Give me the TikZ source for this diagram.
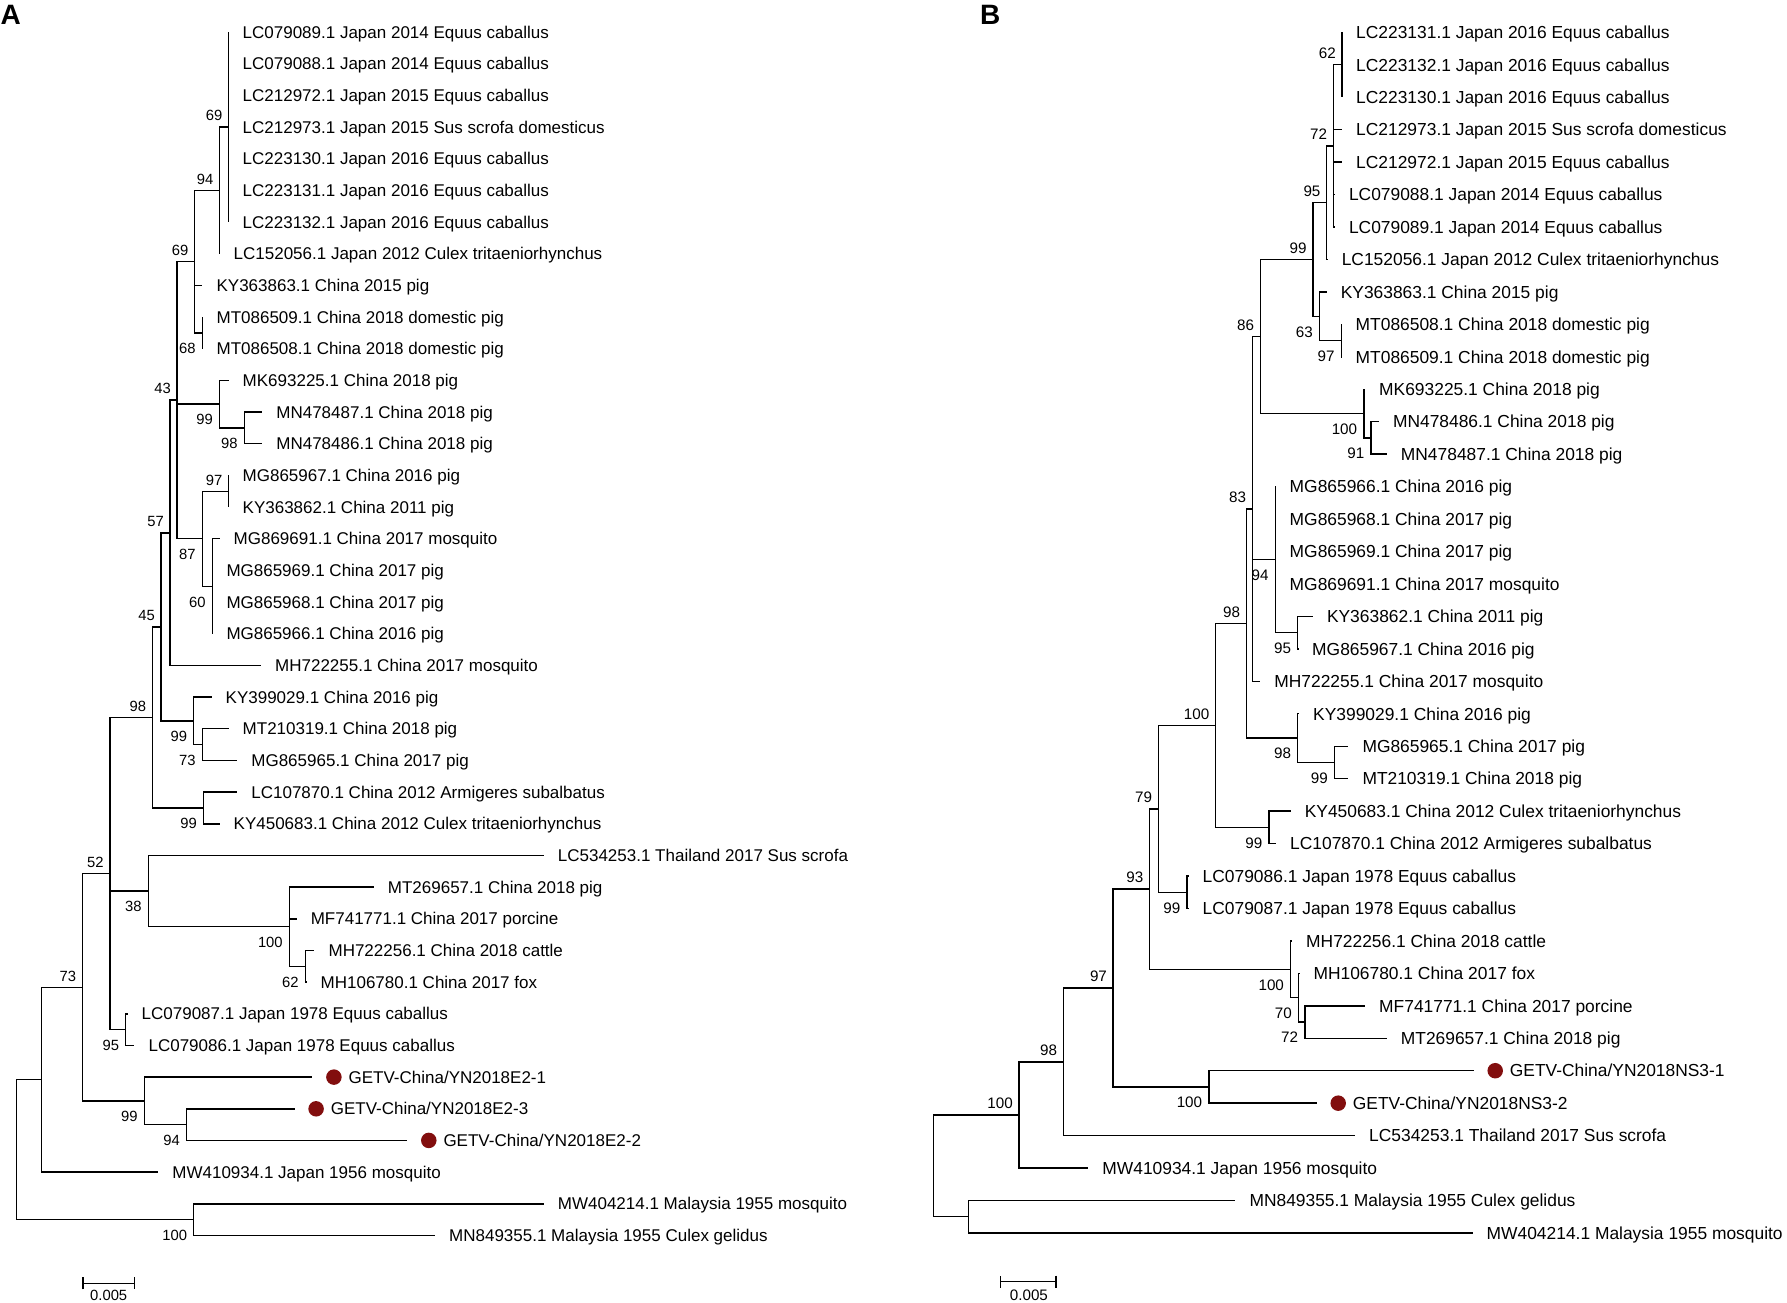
\documentclass[tikz,border=0pt]{standalone}
\usepackage{fontspec}
\setmainfont{Liberation Sans}
\usetikzlibrary{positioning,arrows.meta}
\definecolor{getvred}{RGB}{130,14,14}
\newcommand\tipsizeA{\fontsize{17}{20}\selectfont}
\newcommand\tipsizeB{\fontsize{17.4}{20}\selectfont}
\newcommand\bootsizeA{\fontsize{14.8}{17}\selectfont}
\newcommand\bootsizeB{\fontsize{15.2}{17}\selectfont}

\begin{document}
\begin{tikzpicture}[x=1pt,y=-1pt,line width=1.4pt,
  every edge/.style={draw,to path={|- (\tikztotarget)}},
  tip/.style={anchor=west,inner xsep=13.5pt,inner ysep=0pt,text depth=0pt},
  gtip/.style={tip,inner xsep=35.5pt},
  gdot/.style={circle,fill=getvred,inner sep=0pt,minimum size=15.5pt},
  boot/.style={inner sep=0pt,text height=10.6pt,text depth=0pt},
  bu/.style={boot,above left=5.5pt and 5.5pt of #1},
  bd/.style={boot,below left=9.5pt and 6pt of #1},
  panel/.style={font=\bfseries\fontsize{28}{30}\selectfont,inner sep=0pt,anchor=base west},
  scalebar/.style={arrows={Bar[width=12pt]-Bar[width=12pt]}}]
\path[use as bounding box,fill=white] (0,0) rectangle (1787,1302);

\node[panel] (pA) at (0,24) {A};
\node[panel] (pB) at (979.5,24) {B};

\begin{scope}[tip/.append style={font=\tipsizeA,text height=12.2pt},boot/.append style={font=\bootsizeA}]
\coordinate (aroot) at (16.6,1149.6);
\coordinate (aX) at (41.5,1079.65);
\coordinate (a73) at (82.2,987.2);
\coordinate (a52) at (109.9,873.5);
\coordinate (a98) at (152.2,717.4);
\coordinate (a45) at (161,626.8);
\coordinate (a57) at (170,532.8);
\coordinate (a43) at (177.1,400.15);
\coordinate (a69l) at (194.5,261.6);
\coordinate (a94) at (219.5,190.35);
\coordinate (a69u) at (228.5,127.0);
\coordinate (aMT) at (202.4,332.85);
\coordinate (a99a) at (219.5,404.1);
\coordinate (a98b) at (244.4,427.85);
\coordinate (a87) at (202.4,538.7);
\coordinate (a97) at (228.5,491.25);
\coordinate (a60) at (212.3,586.2);
\coordinate (a99b) at (193.7,720.8);
\coordinate (a73b) at (202.4,744.55);
\coordinate (a99c) at (203.6,807.95);
\coordinate (a38) at (148.3,891.05);
\coordinate (a100) at (289.4,926.7);
\coordinate (a62) at (305.3,966.25);
\coordinate (a95) at (125.7,1029.6);
\coordinate (a99d) at (144.3,1100.85);
\coordinate (a94b) at (186.6,1124.6);
\coordinate (a100m) at (193.7,1219.6);

\node[tip] (tA1) at (228.5,32.0) {LC079089.1 Japan 2014 Equus caballus};
\node[tip] (tA2) at (228.5,63.7) {LC079088.1 Japan 2014 Equus caballus};
\node[tip] (tA3) at (228.5,95.3) {LC212972.1 Japan 2015 Equus caballus};
\node[tip] (tA4) at (228.5,127.0) {LC212973.1 Japan 2015 Sus scrofa domesticus};
\node[tip] (tA5) at (228.5,158.7) {LC223130.1 Japan 2016 Equus caballus};
\node[tip] (tA6) at (228.5,190.4) {LC223131.1 Japan 2016 Equus caballus};
\node[tip] (tA7) at (228.5,222.0) {LC223132.1 Japan 2016 Equus caballus};
\node[tip] (tA8) at (219.5,253.7) {LC152056.1 Japan 2012 Culex tritaeniorhynchus};
\node[tip] (tA9) at (202.4,285.4) {KY363863.1 China 2015 pig};
\node[tip] (tA10) at (202.4,317.0) {MT086509.1 China 2018 domestic pig};
\node[tip] (tA11) at (202.4,348.7) {MT086508.1 China 2018 domestic pig};
\node[tip] (tA12) at (228.5,380.4) {MK693225.1 China 2018 pig};
\node[tip] (tA13) at (262.2,412.0) {MN478487.1 China 2018 pig};
\node[tip] (tA14) at (262.2,443.7) {MN478486.1 China 2018 pig};
\node[tip] (tA15) at (228.5,475.4) {MG865967.1 China 2016 pig};
\node[tip] (tA16) at (228.5,507.1) {KY363862.1 China 2011 pig};
\node[tip] (tA17) at (219.5,538.7) {MG869691.1 China 2017 mosquito};
\node[tip] (tA18) at (212.3,570.4) {MG865969.1 China 2017 pig};
\node[tip] (tA19) at (212.3,602.1) {MG865968.1 China 2017 pig};
\node[tip] (tA20) at (212.3,633.7) {MG865966.1 China 2016 pig};
\node[tip] (tA21) at (261.0,665.4) {MH722255.1 China 2017 mosquito};
\node[tip] (tA22) at (211.5,697.1) {KY399029.1 China 2016 pig};
\node[tip] (tA23) at (228.5,728.7) {MT210319.1 China 2018 pig};
\node[tip] (tA24) at (237.2,760.4) {MG865965.1 China 2017 pig};
\node[tip] (tA25) at (237.2,792.1) {LC107870.1 China 2012 Armigeres subalbatus};
\node[tip] (tA26) at (219.5,823.8) {KY450683.1 China 2012 Culex tritaeniorhynchus};
\node[tip] (tA27) at (543.7,855.4) {LC534253.1 Thailand 2017 Sus scrofa};
\node[tip] (tA28) at (373.7,887.1) {MT269657.1 China 2018 pig};
\node[tip] (tA29) at (296.6,918.8) {MF741771.1 China 2017 porcine};
\node[tip] (tA30) at (314.4,950.4) {MH722256.1 China 2018 cattle};
\node[tip] (tA31) at (306.5,982.1) {MH106780.1 China 2017 fox};
\node[tip] (tA32) at (127.5,1013.8) {LC079087.1 Japan 1978 Equus caballus};
\node[tip] (tA33) at (134.4,1045.4) {LC079086.1 Japan 1978 Equus caballus};
\node[gtip] (tA34) at (312.4,1077.1) {GETV-China/YN2018E2-1};
\node[gtip] (tA35) at (294.6,1108.8) {GETV-China/YN2018E2-3};
\node[gtip] (tA36) at (407.3,1140.4) {GETV-China/YN2018E2-2};
\node[tip] (tA37) at (158.2,1172.1) {MW410934.1 Japan 1956 mosquito};
\node[tip] (tA38) at (543.7,1203.8) {MW404214.1 Malaysia 1955 mosquito};
\node[tip] (tA39) at (435.0,1235.4) {MN849355.1 Malaysia 1955 Culex gelidus};
\node[gdot] (dA34) at ([xshift=21.5pt]tA34.west) {};
\node[gdot] (dA35) at ([xshift=21.5pt]tA35.west) {};
\node[gdot] (dA36) at ([xshift=21.5pt]tA36.west) {};

\path (aroot) edge (aX) edge (a100m);
\path (aX) edge (a73) edge (tA37.west);
\path (a73) edge (a52) edge (a99d);
\path (a52) edge (a98) edge (a38) edge (a95);
\path (a98) edge (a45) edge (a99c);
\path (a45) edge (a57) edge (a99b);
\path (a57) edge (a43) edge (tA21.west);
\path (a43) edge (a69l) edge (a99a) edge (a87);
\path (a69l) edge (a94) edge (tA9.west) edge (aMT);
\path (a94) edge (a69u) edge (tA8.west);
\path (a69u) edge (tA1.west) edge (tA2.west) edge (tA3.west) edge (tA4.west)
  edge (tA5.west) edge (tA6.west) edge (tA7.west);
\path (aMT) edge (tA10.west) edge (tA11.west);
\path (a99a) edge (tA12.west) edge (a98b);
\path (a98b) edge (tA13.west) edge (tA14.west);
\path (a87) edge (a97) edge (a60);
\path (a97) edge (tA15.west) edge (tA16.west);
\path (a60) edge (tA17.west) edge (tA18.west) edge (tA19.west) edge (tA20.west);
\path (a99b) edge (tA22.west) edge (a73b);
\path (a73b) edge (tA23.west) edge (tA24.west);
\path (a99c) edge (tA25.west) edge (tA26.west);
\path (a38) edge (tA27.west) edge (a100);
\path (a100) edge (tA28.west) edge (tA29.west) edge (a62);
\path (a62) edge (tA30.west) edge (tA31.west);
\path (a95) edge (tA32.west) edge (tA33.west);
\path (a99d) edge (tA34.west) edge (a94b);
\path (a94b) edge (tA35.west) edge (tA36.west);
\path (a100m) edge (tA38.west) edge (tA39.west);

\node[bu=a69u] (lA1) {69};
\node[bu=a94] (lA2) {94};
\node[bu=a69l] (lA3) {69};
\node[bd=aMT] (lA4) {68};
\node[bu=a43] (lA5) {43};
\node[bd=a99a] (lA6) {99};
\node[bd=a98b] (lA7) {98};
\node[bu=a97] (lA8) {97};
\node[bd=a87] (lA9) {87};
\node[bd=a60] (lA10) {60};
\node[bu=a57] (lA11) {57};
\node[bu=a45] (lA12) {45};
\node[bd=a99b] (lA13) {99};
\node[bd=a73b] (lA14) {73};
\node[bu=a98] (lA15) {98};
\node[bd=a99c] (lA16) {99};
\node[bu=a52] (lA17) {52};
\node[bd=a38] (lA18) {38};
\node[bd=a100] (lA19) {100};
\node[bd=a62] (lA20) {62};
\node[bd=a95] (lA21) {95};
\node[bu=a73] (lA22) {73};
\node[bd=a99d] (lA23) {99};
\node[bd=a94b] (lA24) {94};
\node[bd=a100m] (lA25) {100};

\coordinate (sA1) at (82.2,1283.3);
\coordinate (sA2) at (135.2,1283.3);
\draw[scalebar] (sA1) -- (sA2);
\node[boot,anchor=north] (sAlab) at (108.7,1289) {0.005};
\end{scope}

\begin{scope}[tip/.append style={font=\tipsizeB,text height=12.5pt},boot/.append style={font=\bootsizeB}]
\coordinate (broot) at (933.2,1165.8);
\coordinate (b100f) at (968.4,1216.7);
\coordinate (b100e) at (1019,1114.9);
\coordinate (b98c) at (1063.3,1061.8);
\coordinate (b97) at (1113.1,988.0);
\coordinate (b100d) at (1208.8,1086.9);
\coordinate (b93) at (1149.5,889.05);
\coordinate (b100c) at (1290.6,969.3);
\coordinate (b70) at (1298.5,997.7);
\coordinate (b72b) at (1304.8,1022.0);
\coordinate (b79) at (1158.2,808.8);
\coordinate (b99d) at (1187,892.2);
\coordinate (b100b) at (1215.5,725.4);
\coordinate (b99c) at (1268.9,827.3);
\coordinate (b98) at (1246.3,623.5);
\coordinate (b98b) at (1297.7,738.1);
\coordinate (b99b) at (1334.5,762.4);
\coordinate (b83) at (1252.3,508.9);
\coordinate (b94) at (1275.2,559.6);
\coordinate (b95b) at (1297.7,632.6);
\coordinate (b86) at (1260.2,336.55);
\coordinate (b100a) at (1363.8,413.6);
\coordinate (b91) at (1370.9,437.9);
\coordinate (b99) at (1312.8,259.5);
\coordinate (b63) at (1319.5,316.25);
\coordinate (b97a) at (1341.2,340.6);
\coordinate (b95) at (1326.6,202.7);
\coordinate (b72) at (1333.3,145.9);
\coordinate (b62) at (1342,64.75);

\node[tip] (tB1) at (1342,32.3) {LC223131.1 Japan 2016 Equus caballus};
\node[tip] (tB2) at (1342,64.75) {LC223132.1 Japan 2016 Equus caballus};
\node[tip] (tB3) at (1342,97.2) {LC223130.1 Japan 2016 Equus caballus};
\node[tip] (tB4) at (1342,129.65) {LC212973.1 Japan 2015 Sus scrofa domesticus};
\node[tip] (tB5) at (1342,162.1) {LC212972.1 Japan 2015 Equus caballus};
\node[tip] (tB6) at (1334.8,194.55) {LC079088.1 Japan 2014 Equus caballus};
\node[tip] (tB7) at (1334.8,227.0) {LC079089.1 Japan 2014 Equus caballus};
\node[tip] (tB8) at (1327.6,259.45) {LC152056.1 Japan 2012 Culex tritaeniorhynchus};
\node[tip] (tB9) at (1326.6,291.9) {KY363863.1 China 2015 pig};
\node[tip] (tB10) at (1341.5,324.35) {MT086508.1 China 2018 domestic pig};
\node[tip] (tB11) at (1341.5,356.8) {MT086509.1 China 2018 domestic pig};
\node[tip] (tB12) at (1365,389.25) {MK693225.1 China 2018 pig};
\node[tip] (tB13) at (1378.8,421.7) {MN478486.1 China 2018 pig};
\node[tip] (tB14) at (1386.7,454.15) {MN478487.1 China 2018 pig};
\node[tip] (tB15) at (1275.5,486.6) {MG865966.1 China 2016 pig};
\node[tip] (tB16) at (1275.5,519.05) {MG865968.1 China 2017 pig};
\node[tip] (tB17) at (1275.5,551.5) {MG865969.1 China 2017 pig};
\node[tip] (tB18) at (1275.5,583.95) {MG869691.1 China 2017 mosquito};
\node[tip] (tB19) at (1312.8,616.4) {KY363862.1 China 2011 pig};
\node[tip] (tB20) at (1298,648.85) {MG865967.1 China 2016 pig};
\node[tip] (tB21) at (1260.2,681.3) {MH722255.1 China 2017 mosquito};
\node[tip] (tB22) at (1299,713.75) {KY399029.1 China 2016 pig};
\node[tip] (tB23) at (1348.3,746.2) {MG865965.1 China 2017 pig};
\node[tip] (tB24) at (1348.3,778.65) {MT210319.1 China 2018 pig};
\node[tip] (tB25) at (1290.6,811.1) {KY450683.1 China 2012 Culex tritaeniorhynchus};
\node[tip] (tB26) at (1276,843.55) {LC107870.1 China 2012 Armigeres subalbatus};
\node[tip] (tB27) at (1188.5,876.0) {LC079086.1 Japan 1978 Equus caballus};
\node[tip] (tB28) at (1188.5,908.45) {LC079087.1 Japan 1978 Equus caballus};
\node[tip] (tB29) at (1292,940.9) {MH722256.1 China 2018 cattle};
\node[tip] (tB30) at (1299.3,973.35) {MH106780.1 China 2017 fox};
\node[tip] (tB31) at (1365,1005.8) {MF741771.1 China 2017 porcine};
\node[tip] (tB32) at (1386.7,1038.25) {MT269657.1 China 2018 pig};
\node[gtip] (tB33) at (1473.7,1070.7) {GETV-China/YN2018NS3-1};
\node[gtip] (tB34) at (1316.7,1103.15) {GETV-China/YN2018NS3-2};
\node[tip] (tB35) at (1355,1135.6) {LC534253.1 Thailand 2017 Sus scrofa};
\node[tip] (tB36) at (1088.2,1168.05) {MW410934.1 Japan 1956 mosquito};
\node[tip] (tB37) at (1235.3,1200.5) {MN849355.1 Malaysia 1955 Culex gelidus};
\node[tip] (tB38) at (1472.5,1232.95) {MW404214.1 Malaysia 1955 mosquito};
\node[gdot] (dB33) at ([xshift=21.5pt]tB33.west) {};
\node[gdot] (dB34) at ([xshift=21.5pt]tB34.west) {};

\path (broot) edge (b100e) edge (b100f);
\path (b100f) edge (tB37.west) edge (tB38.west);
\path (b100e) edge (b98c) edge (tB36.west);
\path (b98c) edge (b97) edge (tB35.west);
\path (b97) edge (b93) edge (b100d);
\path (b100d) edge (tB33.west) edge (tB34.west);
\path (b93) edge (b79) edge (b100c);
\path (b100c) edge (tB29.west) edge (b70);
\path (b70) edge (tB30.west) edge (b72b);
\path (b72b) edge (tB31.west) edge (tB32.west);
\path (b79) edge (b100b) edge (b99d);
\path (b99d) edge (tB27.west) edge (tB28.west);
\path (b100b) edge (b98) edge (b99c);
\path (b99c) edge (tB25.west) edge (tB26.west);
\path (b98) edge (b83) edge (b98b);
\path (b98b) edge (tB22.west) edge (b99b);
\path (b99b) edge (tB23.west) edge (tB24.west);
\path (b83) edge (b86) edge (b94) edge (tB21.west);
\path (b94) edge (tB15.west) edge (tB16.west) edge (tB17.west) edge (tB18.west) edge (b95b);
\path (b95b) edge (tB19.west) edge (tB20.west);
\path (b86) edge (b99) edge (b100a);
\path (b100a) edge (tB12.west) edge (b91);
\path (b91) edge (tB13.west) edge (tB14.west);
\path (b99) edge (b95) edge (b63);
\path (b63) edge (tB9.west) edge (b97a);
\path (b97a) edge (tB10.west) edge (tB11.west);
\path (b95) edge (b72) edge (tB8.west);
\path (b72) edge (b62) edge (tB4.west) edge (tB5.west) edge (tB6.west) edge (tB7.west);
\path (b62) edge (tB1.west) edge (tB2.west) edge (tB3.west);

\node[bu=b62] (lB1) {62};
\node[bu=b72] (lB2) {72};
\node[bu=b95] (lB3) {95};
\node[bu=b99] (lB4) {99};
\node[bd=b63] (lB5) {63};
\node[bd=b97a] (lB6) {97};
\node[bu=b86] (lB7) {86};
\node[bd=b100a] (lB8) {100};
\node[bd=b91] (lB9) {91};
\node[bu=b83] (lB10) {83};
\node[bd=b94] (lB11) {94};
\node[bd=b95b] (lB12) {95};
\node[bu=b98] (lB13) {98};
\node[bd=b98b] (lB14) {98};
\node[bd=b99b] (lB15) {99};
\node[bu=b100b] (lB16) {100};
\node[bd=b99c] (lB17) {99};
\node[bu=b79] (lB18) {79};
\node[bd=b99d] (lB19) {99};
\node[bu=b93] (lB20) {93};
\node[bd=b100c] (lB21) {100};
\node[bd=b70] (lB22) {70};
\node[bd=b72b] (lB23) {72};
\node[bu=b97] (lB24) {97};
\node[bd=b100d] (lB25) {100};
\node[bu=b98c] (lB26) {98};
\node[bu=b100e] (lB27) {100};

\coordinate (sB1) at (1000,1281.7);
\coordinate (sB2) at (1056.5,1281.7);
\draw[scalebar] (sB1) -- (sB2);
\node[boot,anchor=north] (sBlab) at (1028.9,1289) {0.005};
\end{scope}
\end{tikzpicture}
\end{document}
